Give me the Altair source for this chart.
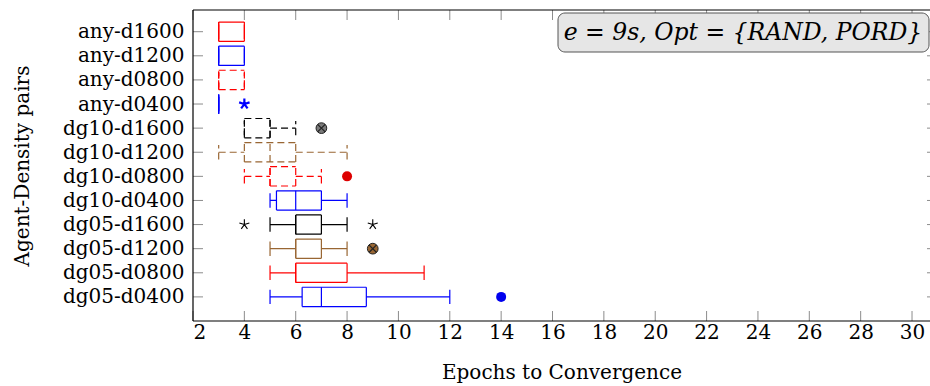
import altair as alt
import pandas as pd

# ---- data (bottom row first) ----
categories = ["dg05-d0400", "dg05-d0800", "dg05-d1200", "dg05-d1600",
              "dg10-d0400", "dg10-d0800", "dg10-d1200", "dg10-d1600",
              "any-d0400", "any-d0800", "any-d1200", "any-d1600"]
lower_whisker = [5, 5, 5, 5, 5, 4, 3, 4, 3, 3, 3, 3]
lower_quartile = [6.25, 6, 6, 6, 5.25, 5, 4, 4, 3, 3, 3, 3]
median = [7, 6, 6, 6, 6, 5, 5, 5, 3, 3, 3, 3]
upper_quartile = [8.75, 8, 7, 7, 7, 6, 6, 5, 3, 4, 4, 4]
upper_whisker = [12, 11, 8, 8, 8, 7, 8, 6, 3, 4, 4, 4]
line_colors = ["#0000ff", "#ff0000", "#996633", "#000000",
               "#0000ff", "#ff0000", "#996633", "#000000",
               "#0000ff", "#ff0000", "#0000ff", "#ff0000"]
line_styles = ["solid", "solid", "solid", "solid",
               "solid", "dashed", "dashed", "dashed",
               "solid", "dashed", "solid", "solid"]

outlier_cats = ["any-d0400", "dg10-d1600", "dg10-d0800", "dg05-d1600",
                "dg05-d1600", "dg05-d1200", "dg05-d0400"]
outlier_vals = [4, 7, 8, 4, 9, 9, 14]
outlier_kinds = ["boldstar", "otimes", "dot", "star", "star", "otimes", "dot"]
outlier_colors = ["#0000ff", "#7a7a7a", "#dd0000", "#000000",
                  "#000000", "#996633", "#0000ee"]

x_ticks = [2, 4, 6, 8, 10, 12, 14, 16, 18, 20, 22, 24, 26, 28, 30]
legend_text = "e = 9s, Opt = {RAND, PORD}"

# ---- tables ----
idx = list(range(1, len(categories) + 1))
boxes = pd.DataFrame({
    "cat": categories, "idx": idx,
    "lo": lower_whisker, "q1": lower_quartile, "med": median,
    "q3": upper_quartile, "hi": upper_whisker,
    "color": line_colors, "style": line_styles,
})
boxes["ylo"] = boxes["idx"] - 0.4
boxes["yhi"] = boxes["idx"] + 0.4
boxes["clo"] = boxes["idx"] - 0.3
boxes["chi"] = boxes["idx"] + 0.3

pos = {c: i for c, i in zip(categories, idx)}
outs = pd.DataFrame({
    "cat": outlier_cats, "val": outlier_vals, "kind": outlier_kinds,
    "color": outlier_colors,
})
outs["idx"] = outs["cat"].map(pos)

xt = pd.DataFrame({"v": x_ticks})
yt = pd.DataFrame({"v": idx})

W, H = 737, 311
FONT = "DejaVu Serif"

xscale = alt.Scale(domain=[2, 30.7], nice=False, zero=False)
yscale = alt.Scale(domain=[0, 12.9], nice=False, zero=False)
label_expr = "[" + ",".join(f"'{c}'" for c in categories) + "][datum.value-1]"

xaxis = alt.Axis(values=x_ticks, format="d", title="Epochs to Convergence",
                 ticks=False, tickSize=0, domain=False, grid=False,
                 labelFont=FONT, labelFontSize=20, labelColor="black",
                 labelPadding=1, titleFont=FONT, titleFontSize=20,
                 titleFontWeight="normal", titleColor="black",
                 titleY=57, titleBaseline="alphabetic")
yaxis = alt.Axis(values=idx, labelExpr=label_expr, title="Agent-Density pairs",
                 ticks=False, tickSize=0, domain=False, grid=False,
                 labelFont=FONT, labelFontSize=20, labelColor="black",
                 labelPadding=9, titleFont=FONT, titleFontSize=20,
                 titleFontWeight="normal", titleColor="black",
                 titleX=-171, titleY=H / 2, titleAngle=-90,
                 titleAlign="center", titleBaseline="middle")


def X(f):
    return alt.X(f"{f}:Q", scale=xscale, axis=xaxis)


def Y(f):
    return alt.Y(f"{f}:Q", scale=yscale, axis=yaxis)


dash = alt.StrokeDash("style:N", scale=alt.Scale(domain=["solid", "dashed"],
                                                 range=[[1, 0], [7, 4]]),
                      legend=None)
stroke = alt.Color("color:N", scale=None)
SW = 1.2

base = alt.Chart(boxes)


def hrule(xa, xb, yf):
    return base.mark_rule(strokeWidth=SW).encode(
        x=X(xa), x2=f"{xb}:Q", y=Y(yf), color=stroke, strokeDash=dash)


def vrule(xf, ya, yb):
    return base.mark_rule(strokeWidth=SW).encode(
        x=X(xf), y=Y(ya), y2=f"{yb}:Q", color=stroke, strokeDash=dash)


box_layers = [
    hrule("lo", "q1", "idx"),      # lower whisker
    hrule("q3", "hi", "idx"),      # upper whisker
    vrule("lo", "clo", "chi"),     # lower cap
    vrule("hi", "clo", "chi"),     # upper cap
    hrule("q1", "q3", "ylo"),      # box bottom
    hrule("q1", "q3", "yhi"),      # box top
    vrule("q1", "ylo", "yhi"),     # box left
    vrule("q3", "ylo", "yhi"),     # box right
    vrule("med", "ylo", "yhi"),    # median
]

star_path = ("M0,0L0,-1M0,0L0.951,-0.309M0,0L0.588,0.809"
             "M0,0L-0.588,0.809M0,0L-0.951,-0.309")
cross_path = "M-0.707,-0.707L0.707,0.707M-0.707,0.707L0.707,-0.707"

ob = alt.Chart(outs)
dots = ob.transform_filter(alt.datum.kind == "dot").mark_point(
    shape="circle", filled=True, size=100, opacity=1).encode(
    x=X("val"), y=Y("idx"), fill=alt.Fill("color:N", scale=None))
otimes_c = ob.transform_filter(alt.datum.kind == "otimes").mark_point(
    shape="circle", filled=True, size=115, opacity=1, stroke="#222222",
    strokeWidth=1).encode(
    x=X("val"), y=Y("idx"), fill=alt.Fill("color:N", scale=None))
otimes_x = ob.transform_filter(alt.datum.kind == "otimes").mark_point(
    shape=cross_path, size=115, filled=False, color="#222222",
    strokeWidth=1.2, opacity=1).encode(x=X("val"), y=Y("idx"))
stars = ob.transform_filter(alt.datum.kind == "star").mark_point(
    shape=star_path, size=110, filled=False, strokeWidth=1.1, opacity=1
).encode(x=X("val"), y=Y("idx"), color=alt.Color("color:N", scale=None))
bstars = ob.transform_filter(alt.datum.kind == "boldstar").mark_point(
    shape=star_path, size=120, filled=False, strokeWidth=2.2, opacity=1
).encode(x=X("val"), y=Y("idx"), color=alt.Color("color:N", scale=None))

tick_col = "#8c8c8c"
xt_bot = alt.Chart(xt).mark_rule(color=tick_col, strokeWidth=1).encode(
    x=X("v"), y=alt.value(H), y2=alt.value(H - 10))
xt_top = alt.Chart(xt).mark_rule(color=tick_col, strokeWidth=1).encode(
    x=X("v"), y=alt.value(0), y2=alt.value(10))
yt_left = alt.Chart(yt).mark_rule(color=tick_col, strokeWidth=1).encode(
    y=Y("v"), x=alt.value(0), x2=alt.value(10))
yt_right = alt.Chart(yt).mark_rule(color=tick_col, strokeWidth=1).encode(
    y=Y("v"), x=alt.value(W), x2=alt.value(W - 3))

frame_df = pd.DataFrame({"k": [0]})
fr = alt.Chart(frame_df)
frame_top = fr.mark_rule(color="black", strokeWidth=1.2).encode(
    x=alt.value(0), x2=alt.value(W), y=alt.value(0))
frame_bot = fr.mark_rule(color="black", strokeWidth=1.2).encode(
    x=alt.value(0), x2=alt.value(W), y=alt.value(H))
frame_left = fr.mark_rule(color="black", strokeWidth=1.2).encode(
    x=alt.value(0), y=alt.value(0), y2=alt.value(H))

lg = pd.DataFrame({"t": [legend_text]})
lg_box = alt.Chart(lg).mark_rect(fill="#e6e6e6", stroke="#555555",
                                 strokeWidth=1, cornerRadius=7).encode(
    x=alt.value(365), x2=alt.value(736), y=alt.value(3), y2=alt.value(42))
lg_text = alt.Chart(lg).mark_text(font=FONT, fontStyle="italic", fontSize=23.5,
                                  color="black", align="center",
                                  baseline="middle").encode(
    x=alt.value(550), y=alt.value(23), text="t:N")

chart = alt.layer(
    xt_bot, xt_top, yt_left, yt_right,
    *box_layers,
    dots, otimes_c, otimes_x, stars, bstars,
    frame_top, frame_bot, frame_left,
    lg_box, lg_text,
).properties(
    width=W, height=H,
    autosize=alt.AutoSizeParams(type="none"),
    padding={"left": 193, "top": 10, "right": 0, "bottom": 65},
    background="white",
).configure_view(strokeWidth=0)

chart.save("out.html", embed_options={"renderer": "svg", "actions": False})
